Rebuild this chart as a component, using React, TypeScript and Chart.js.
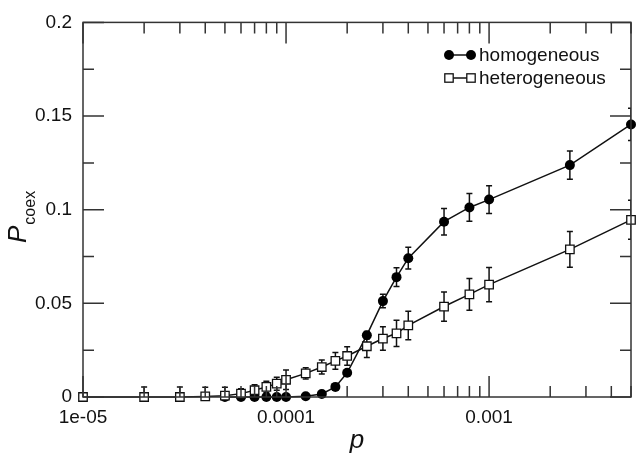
import React, { useEffect, useRef } from "react";
import { Chart, registerables } from "chart.js";

Chart.register(...registerables);

// ---- data ----
const pHom = [5e-5, 6e-5, 7e-5, 8e-5, 9e-5, 1e-4, 1.25e-4, 1.5e-4, 1.75e-4, 2e-4, 2.5e-4, 3e-4, 3.5e-4, 4e-4, 6e-4, 8e-4, 1e-3, 2.5e-3, 5e-3];
const homY = [0, 0, 0, 0, 0, 0, 0.0004, 0.0016, 0.0054, 0.0129, 0.033, 0.0512, 0.064, 0.0741, 0.0936, 0.1012, 0.1054, 0.1238, 0.1455];
const homErr = [0, 0, 0, 0, 0, 0, 0, 0, 0.001, 0.001, 0.002, 0.0036, 0.005, 0.0058, 0.0071, 0.0074, 0.0074, 0.0076, 0.0086];

const pHet = [1e-5, 2e-5, 3e-5, 4e-5, 5e-5, 6e-5, 7e-5, 8e-5, 9e-5, 1e-4, 1.25e-4, 1.5e-4, 1.75e-4, 2e-4, 2.5e-4, 3e-4, 3.5e-4, 4e-4, 6e-4, 8e-4, 1e-3, 2.5e-3, 5e-3];
const hetY = [0, 0, 0, 0.0003, 0.0007, 0.0018, 0.0036, 0.0054, 0.0071, 0.0092, 0.0126, 0.016, 0.0193, 0.0219, 0.0271, 0.0312, 0.034, 0.0382, 0.0483, 0.0548, 0.06, 0.0788, 0.0946];
const hetErr = [0, 0.0054, 0.0054, 0.0049, 0.0045, 0.0026, 0.003, 0.003, 0.0035, 0.0052, 0.003, 0.0037, 0.0045, 0.0049, 0.006, 0.0063, 0.007, 0.0076, 0.0078, 0.0085, 0.0091, 0.0095, 0.0104];

const xTickValues = [1e-5, 1e-4, 1e-3];
const xTickLabels = ["1e-05", "0.0001", "0.001"];
const yTickValues = [0, 0.05, 0.1, 0.15, 0.2];
const yTickLabels = ["0", "0.05", "0.1", "0.15", "0.2"];
const yMinorValues = [0.025, 0.075, 0.125, 0.175];
const seriesNames = ["homogeneous", "heterogeneous"];

const FONT = "'Liberation Sans', Arial, sans-serif";
const INK = "#111";
const AXIS = "#333";

const errorBarPlugin = {
  id: "errorBars",
  beforeDatasetsDraw(chart: any) {
    const { ctx, chartArea, scales } = chart;
    const x = scales.x, y = scales.y;
    ctx.save();
    ctx.beginPath();
    ctx.rect(chartArea.left, chartArea.top, chartArea.right - chartArea.left, chartArea.bottom - chartArea.top);
    ctx.clip();
    ctx.strokeStyle = INK;
    ctx.lineWidth = 1.5;
    const sets = [
      { px: pHom, py: homY, pe: homErr },
      { px: pHet, py: hetY, pe: hetErr },
    ];
    sets.forEach((s) => {
      s.px.forEach((v, i) => {
        const e = s.pe[i];
        if (!e) return;
        const cx = x.getPixelForValue(v);
        const y1 = y.getPixelForValue(s.py[i] + e);
        const y2 = y.getPixelForValue(s.py[i] - e);
        ctx.beginPath();
        ctx.moveTo(cx, y1);
        ctx.lineTo(cx, y2);
        ctx.moveTo(cx - 3, y1);
        ctx.lineTo(cx + 3, y1);
        ctx.moveTo(cx - 3, y2);
        ctx.lineTo(cx + 3, y2);
        ctx.stroke();
      });
    });
    ctx.restore();
  },
};

const framePlugin = {
  id: "frame",
  afterDraw(chart: any) {
    const { ctx, chartArea, scales } = chart;
    const { left, right, top, bottom } = chartArea;
    const x = scales.x, y = scales.y;
    ctx.save();
    ctx.strokeStyle = AXIS;
    ctx.lineWidth = 1.5;
    ctx.strokeRect(left, top, right - left, bottom - top);
    ctx.beginPath();
    const MAJ = 21, MIN = 11;
    // y ticks
    yTickValues.forEach((v) => {
      const py = y.getPixelForValue(v);
      ctx.moveTo(left, py); ctx.lineTo(left + MAJ, py);
      ctx.moveTo(right, py); ctx.lineTo(right - MAJ, py);
    });
    yMinorValues.forEach((v) => {
      const py = y.getPixelForValue(v);
      ctx.moveTo(left, py); ctx.lineTo(left + MIN, py);
      ctx.moveTo(right, py); ctx.lineTo(right - MIN, py);
    });
    // x ticks
    xTickValues.forEach((v) => {
      const px = x.getPixelForValue(v);
      ctx.moveTo(px, bottom); ctx.lineTo(px, bottom - MAJ);
      ctx.moveTo(px, top); ctx.lineTo(px, top + MAJ);
      for (let k = 2; k <= 9; k++) {
        const mv = v * k;
        if (mv > x.max * 1.0001) break;
        const mx = x.getPixelForValue(mv);
        ctx.moveTo(mx, bottom); ctx.lineTo(mx, bottom - MIN);
        ctx.moveTo(mx, top); ctx.lineTo(mx, top + MIN);
      }
    });
    ctx.stroke();

    // axis titles
    ctx.fillStyle = INK;
    ctx.font = `italic 26px ${FONT}`;
    ctx.textAlign = "center";
    ctx.textBaseline = "alphabetic";
    ctx.fillText("p", (left + right) / 2, 448);

    ctx.save();
    ctx.translate(26, 243);
    ctx.rotate(-Math.PI / 2);
    ctx.textAlign = "left";
    ctx.font = `italic 26px ${FONT}`;
    ctx.fillText("P", 0, 0);
    const wP = ctx.measureText("P").width;
    ctx.font = `16px ${FONT}`;
    ctx.fillText("coex", wP + 1, 9);
    ctx.restore();

    // legend
    const lx1 = 449, lx2 = 471, tx = 479;
    const rows = [55, 78];
    ctx.font = `19px ${FONT}`;
    ctx.textBaseline = "middle";
    ctx.textAlign = "left";
    rows.forEach((ry, idx) => {
      ctx.strokeStyle = INK;
      ctx.lineWidth = 1.5;
      ctx.beginPath();
      ctx.moveTo(lx1, ry); ctx.lineTo(lx2, ry);
      ctx.stroke();
      [lx1, lx2].forEach((mx) => {
        if (idx === 0) {
          ctx.fillStyle = "#000";
          ctx.beginPath();
          ctx.arc(mx, ry, 5, 0, Math.PI * 2);
          ctx.fill();
        } else {
          ctx.fillStyle = "#fff";
          ctx.lineWidth = 1.3;
          ctx.fillRect(mx - 4.2, ry - 4.2, 8.4, 8.4);
          ctx.strokeRect(mx - 4.2, ry - 4.2, 8.4, 8.4);
        }
      });
      ctx.fillStyle = INK;
      ctx.fillText(seriesNames[idx], tx, ry + 1);
    });
    ctx.restore();
  },
};

export default function App() {
  const ref = useRef<HTMLCanvasElement | null>(null);
  useEffect(() => {
    document.body.style.margin = "0";
    if (!ref.current) return;
    const chart = new Chart(ref.current, {
      type: "line",
      data: {
        datasets: [
          {
            label: seriesNames[0],
            data: pHom.map((v, i) => ({ x: v, y: homY[i] })),
            borderColor: INK,
            borderWidth: 1.5,
            pointStyle: "circle",
            pointRadius: 5,
            pointBackgroundColor: "#000",
            pointBorderColor: "#000",
            pointBorderWidth: 0,
            clip: false as any,
            order: 2,
          },
          {
            label: seriesNames[1],
            data: pHet.map((v, i) => ({ x: v, y: hetY[i] })),
            borderColor: INK,
            borderWidth: 1.5,
            pointStyle: "rect",
            pointRadius: 6,
            pointBackgroundColor: "#fff",
            pointBorderColor: INK,
            pointBorderWidth: 1.3,
            clip: false as any,
            order: 1,
          },
        ],
      },
      options: {
        animation: false,
        responsive: false,
        maintainAspectRatio: false,
        layout: { padding: { top: 13, right: 10, left: 0, bottom: 0 } },
        plugins: { legend: { display: false }, tooltip: { enabled: false } },
        scales: {
          x: {
            type: "logarithmic",
            min: 1e-5,
            max: 5e-3,
            grid: { display: false, drawTicks: false },
            border: { display: false },
            afterBuildTicks: (scale: any) => {
              scale.ticks = xTickValues.map((v) => ({ value: v }));
            },
            afterFit: (scale: any) => {
              scale.height = 61;
            },
            ticks: {
              autoSkip: false,
              maxRotation: 0,
              padding: 9,
              color: INK,
              font: { family: FONT, size: 19 },
              callback: (value: any) => {
                const i = xTickValues.findIndex((t) => Math.abs(t - value) / t < 1e-6);
                return i >= 0 ? xTickLabels[i] : "";
              },
            },
          },
          y: {
            type: "linear",
            min: 0,
            max: 0.2,
            grid: { display: false, drawTicks: false },
            border: { display: false },
            afterBuildTicks: (scale: any) => {
              scale.ticks = yTickValues.map((v) => ({ value: v }));
            },
            afterFit: (scale: any) => {
              scale.width = 83;
            },
            ticks: {
              padding: 11,
              color: INK,
              font: { family: FONT, size: 19 },
              callback: (value: any) => {
                const i = yTickValues.findIndex((t) => Math.abs(t - value) < 1e-9);
                return i >= 0 ? yTickLabels[i] : "";
              },
            },
          },
        },
      },
      plugins: [errorBarPlugin, framePlugin],
    });
    return () => chart.destroy();
  }, []);
  return (
    <div style={{ width: 641, height: 458, background: "#fff" }}>
      <canvas ref={ref} width={641} height={458} style={{ display: "block" }} />
    </div>
  );
}
